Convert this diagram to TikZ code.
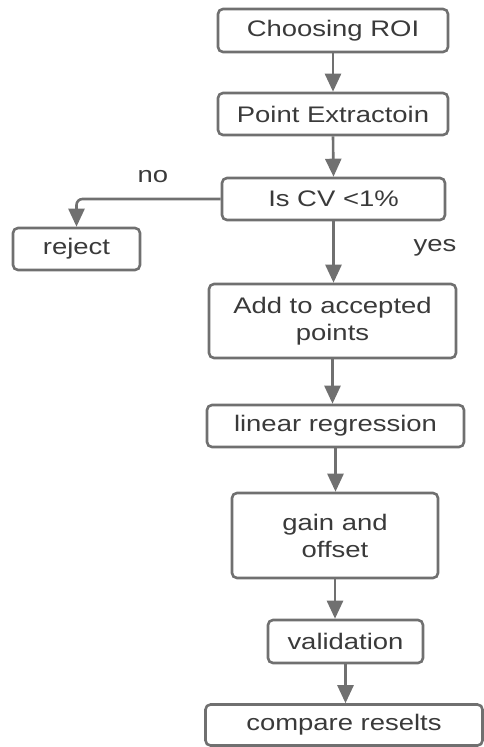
\documentclass[tikz,border=0pt]{standalone}
\usepackage{fontspec}
\setmainfont{Liberation Sans}[FakeStretch=1.22]
\usetikzlibrary{arrows.meta}
\definecolor{linec}{HTML}{707070}
\definecolor{textc}{HTML}{3A3A3A}
\tikzset{
  box/.style={draw=linec, line width=2.6pt, rounded corners=5pt, fill=white,
    inner sep=0pt, align=center, text=textc,
    font=\fontsize{22.5}{27}\selectfont},
  arr/.style={draw=linec, line width=2.6pt, -{Triangle[width=16pt,length=18pt]}},
  lbl/.style={text=textc, font=\fontsize{22.5}{27}\selectfont, inner sep=0pt}
}
\begin{document}
\begin{tikzpicture}[x=1pt,y=-1pt]
\useasboundingbox (0,0) rectangle (484,747);
\node[box, minimum width=230pt, minimum height=43pt] (roi) at (333,30.5) {Choosing ROI};
\node[box, minimum width=230pt, minimum height=42pt] (pe) at (333,114) {Point Extractoin};
\node[box, minimum width=223pt, minimum height=42pt] (cv) at (333.5,199) {Is CV <1\%};
\node[box, minimum width=127pt, minimum height=42pt] (rej) at (76.5,249) {reject};
\node[box, minimum width=247pt, minimum height=74pt] (add) at (332.5,321) {Add to accepted\\points};
\node[box, minimum width=257pt, minimum height=42pt] (lr) at (335.5,426) {linear regression};
\node[box, minimum width=206pt, minimum height=85pt] (gain) at (335,535.5) {gain and\\offset};
\node[box, minimum width=155pt, minimum height=43pt] (val) at (345.5,641.5) {validation};
\node[box, minimum width=277pt, minimum height=41pt] (cmp) at (344,725) {compare reselts};
\node[lbl] (no) at (153,177) {no};
\node[lbl] (yes) at (435,248) {yes};
\draw[arr] (roi.south) -- (pe.north);
\draw[arr] (pe.south) -- (cv.north);
\draw[arr] (cv.south) -- (cv.south |- add.north);
\draw[arr] (add.south) -- (add.south |- lr.north);
\draw[arr] (lr.south) -- (lr.south |- gain.north);
\draw[arr] (gain.south) -- (gain.south |- val.north);
\draw[arr] (val.south) -- (val.south |- cmp.north);
\draw[arr, rounded corners=6pt] (cv.west) -| (rej.north);
\end{tikzpicture}
\end{document}
